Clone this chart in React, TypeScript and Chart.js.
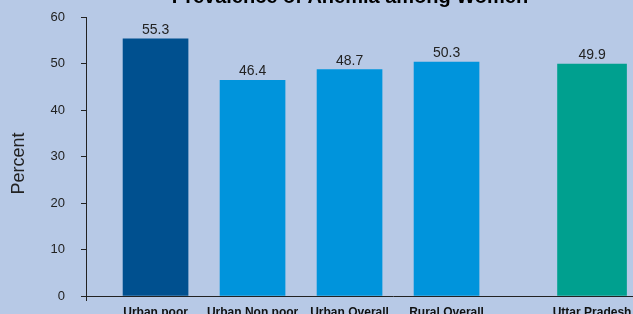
import React, { useEffect, useRef } from "react";
import { Chart, registerables } from "chart.js";

Chart.register(...registerables);

const TITLE = "Prevalence of Anemia among Women";
const Y_TITLE = "Percent";
const categories = ["Urban poor", "Urban Non poor", "Urban Overall", "Rural Overall", "Uttar Pradesh"];
const positions = [0, 1, 2, 3, 4.5];
const values = [55.3, 46.4, 48.7, 50.3, 49.9];
const barColors = ["#00508F", "#0094DC", "#0094DC", "#0094DC", "#00A08F"];
const yTicks = [0, 10, 20, 30, 40, 50, 60];

const OFFSET_TOP = 20;

export default function App() {
  const ref = useRef<HTMLCanvasElement | null>(null);

  useEffect(() => {
    const canvas = ref.current;
    if (!canvas) return;
    const mainIdx = [0, 1, 2, 3];
    const upIdx = [4];

    const labelPlugin = {
      id: "valueLabels",
      afterDatasetsDraw(chart: any) {
        const ctx = chart.ctx;
        ctx.save();
        ctx.font = "14px 'Liberation Sans', Arial, sans-serif";
        ctx.fillStyle = "#222222";
        ctx.textAlign = "center";
        ctx.textBaseline = "alphabetic";
        chart.data.datasets.forEach((ds: any, di: number) => {
          const meta = chart.getDatasetMeta(di);
          meta.data.forEach((bar: any, i: number) => {
            const v = ds.data[i].y;
            ctx.fillText(v.toFixed(1), bar.x, bar.y - 5);
          });
        });
        // y-axis title
        ctx.font = "18px 'Liberation Sans', Arial, sans-serif";
        ctx.fillStyle = "#222222";
        ctx.translate(23.5, 163.5 + OFFSET_TOP);
        ctx.rotate(-Math.PI / 2);
        ctx.textAlign = "center";
        ctx.fillText(Y_TITLE, 0, 0);
        ctx.restore();
      },
    };

    const chart = new Chart(canvas, {
      type: "bar",
      data: {
        datasets: [
          {
            data: mainIdx.map((i) => ({ x: positions[i], y: values[i] })),
            backgroundColor: mainIdx.map((i) => barColors[i]),
            barThickness: 65,
          },
          {
            data: upIdx.map((i) => ({ x: positions[i], y: values[i] })),
            backgroundColor: upIdx.map((i) => barColors[i]),
            barThickness: 69,
          },
        ],
      },
      options: {
        animation: false,
        responsive: false,
        maintainAspectRatio: false,
        layout: { padding: 0 },
        plugins: {
          legend: { display: false },
          tooltip: { enabled: false },
          title: {
            display: true,
            text: TITLE,
            color: "#000000",
            font: { family: "'Liberation Sans', Arial, sans-serif", size: 20, weight: "bold" },
            padding: { top: 5, bottom: 8 },
          },
        },
        datasets: { bar: { grouped: false } } as any,
        scales: {
          x: {
            type: "linear",
            offset: false,
            min: -0.717,
            max: 5.613,
            afterBuildTicks: (scale: any) => {
              scale.ticks = [{ value: -0.717 }, ...positions.map((p) => ({ value: p }))];
            },
            afterFit: (scale: any) => {
              scale.height = 30;
            },
            border: { display: true, color: "#222222", width: 1 },
            grid: {
              display: true,
              offset: false,
              drawOnChartArea: false,
              drawTicks: true,
              tickLength: 5,
              color: (c: any) => (c.tick && c.tick.value < -0.5 ? "#222222" : "rgba(0,0,0,0)"),
            },
            ticks: {
              autoSkip: false,
              maxRotation: 0,
              padding: 4,
              color: "#111111",
              font: { family: "'Liberation Sans', Arial, sans-serif", size: 12, weight: "bold" },
              callback: (v: any) => {
                const idx = positions.indexOf(Number(v));
                return idx >= 0 ? categories[idx] : "";
              },
            },
          },
          y: {
            min: 0,
            max: 60,
            afterBuildTicks: (scale: any) => {
              scale.ticks = yTicks.map((v) => ({ value: v }));
            },
            afterFit: (scale: any) => {
              scale.width = 86;
            },
            border: { display: true, color: "#222222", width: 1 },
            grid: {
              display: true,
              drawOnChartArea: false,
              drawTicks: true,
              tickLength: 5,
              color: "#222222",
            },
            ticks: {
              padding: 16,
              color: "#222222",
              font: { family: "'Liberation Sans', Arial, sans-serif", size: 13 },
            },
          },
        },
      },
      plugins: [labelPlugin],
    } as any);

    return () => chart.destroy();
  }, []);

  return (
    <div
      style={{
        position: "fixed",
        left: 0,
        top: 0,
        width: 633,
        height: 314,
        overflow: "hidden",
        background: "#B7C9E6",
      }}
    >
      <canvas
        ref={ref}
        width={700}
        height={346}
        style={{ position: "absolute", left: 0, top: -OFFSET_TOP, width: 700, height: 346 }}
      />
    </div>
  );
}
